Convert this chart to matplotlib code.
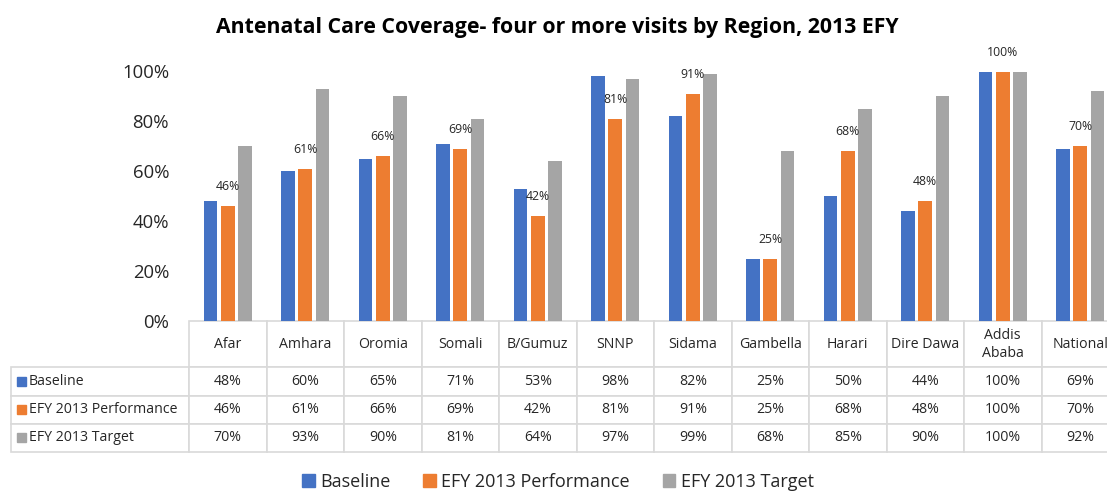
import matplotlib
matplotlib.use("Agg")
import matplotlib.pyplot as plt
from matplotlib.patches import Rectangle, Patch
from matplotlib.table import Table
import numpy as np

regions = ["Afar", "Amhara", "Oromia", "Somali", "B/Gumuz", "SNNP", "Sidama",
           "Gambella", "Harari", "Dire Dawa", "Addis\nAbaba", "National"]
baseline = [48, 60, 65, 71, 53, 98, 82, 25, 50, 44, 100, 69]
performance = [46, 61, 66, 69, 42, 81, 91, 25, 68, 48, 100, 70]
target = [70, 93, 90, 81, 64, 97, 99, 68, 85, 90, 100, 92]

series_names = ["Baseline", "EFY 2013 Performance", "EFY 2013 Target"]
colors = ["#4472C4", "#ED7D31", "#A5A5A5"]
text_color = "#262626"
grid_color = "#D9D9D9"

plt.rcParams['font.family'] = ['Open Sans', 'DejaVu Sans']

# figure laid out in pixels
W, H = 1107, 491
ax_l, ax_r, ax_t, ax_b = 189, 1119, 71.5, 321
aw, ah = ax_r - ax_l, ax_b - ax_t

fig = plt.figure(figsize=(W / 100, H / 100), dpi=100)
ax = fig.add_axes([ax_l / W, 1 - ax_b / H, aw / W, ah / H])

x = np.arange(len(regions))
step, width = 0.22, 0.175
all_series = [baseline, performance, target]
for i, vals in enumerate(all_series):
    ax.bar(x + (i - 1) * step, vals, width, color=colors[i], label=series_names[i])

# value labels for the performance series only
for xi, v in zip(x, performance):
    ax.annotate(f"{v}%", (xi, v), xytext=(0, 14), textcoords='offset points',
                ha='center', va='center', fontsize=8.8, color=text_color,
                annotation_clip=False)

ax.set_xlim(-0.5, len(regions) - 0.5)
ax.set_ylim(0, 100)
ax.set_xticks([])
ax.set_yticks(range(0, 101, 20))
ax.set_yticklabels([f"{t}%" for t in range(0, 101, 20)])
ax.tick_params(axis='y', length=0, pad=14.4, labelsize=13.3, labelcolor=text_color)
for s in ax.spines.values():
    s.set_visible(False)

# data table under the chart (cell sizes given in axes units)
tab_left, tab_bottom = 11, 451.7
label_w, col_w = (ax_l - tab_left) / aw, 77.5 / aw
head_h, row_h = 46.3 / ah, 28 / ah
tbl = Table(ax, bbox=[0, -(tab_bottom - ax_b) / ah, 1, (tab_bottom - ax_b) / ah])
for j, r in enumerate(regions):
    tbl.add_cell(0, j, col_w, head_h, text=r, loc='center')
for i, vals in enumerate(all_series):
    tbl.add_cell(i + 1, -1, label_w, row_h, text=series_names[i], loc='left')
    for j, v in enumerate(vals):
        tbl.add_cell(i + 1, j, col_w, row_h, text=f"{v}%", loc='center')
tbl.auto_set_font_size(False)
tbl.set_fontsize(10.2)
for cell in tbl.get_celld().values():
    cell.set_edgecolor(grid_color)
    cell.set_linewidth(1.2)
    cell.get_text().set_color(text_color)
    cell.get_text().set_linespacing(1.25)
ax.add_table(tbl)

# colour keys inside the row labels
sq = 9
for i in range(len(all_series)):
    cy = ax_b + 46.3 + 28 * (i + 0.5)
    ax.add_patch(Rectangle(((17 - ax_l) / aw, (ax_b - cy - sq / 2) / ah), sq / aw, sq / ah,
                           transform=ax.transAxes, color=colors[i], clip_on=False))

fig.text(557.5 / W, 1 - 27.5 / H,
         "Antenatal Care Coverage- four or more visits by Region, 2013 EFY",
         ha='center', va='center', fontsize=15.3, fontweight='bold', color='black')

handles = [Patch(color=c, label=n) for c, n in zip(colors, series_names)]
fig.legend(handles=handles, loc='center', bbox_to_anchor=(558 / W, 1 - 482 / H), ncol=3,
           frameon=False, fontsize=13, handlelength=0.7, handleheight=0.7,
           handletextpad=0.3, columnspacing=1.8, labelcolor=text_color,
           borderpad=0, borderaxespad=0)

fig.savefig("out.png", dpi=100)
